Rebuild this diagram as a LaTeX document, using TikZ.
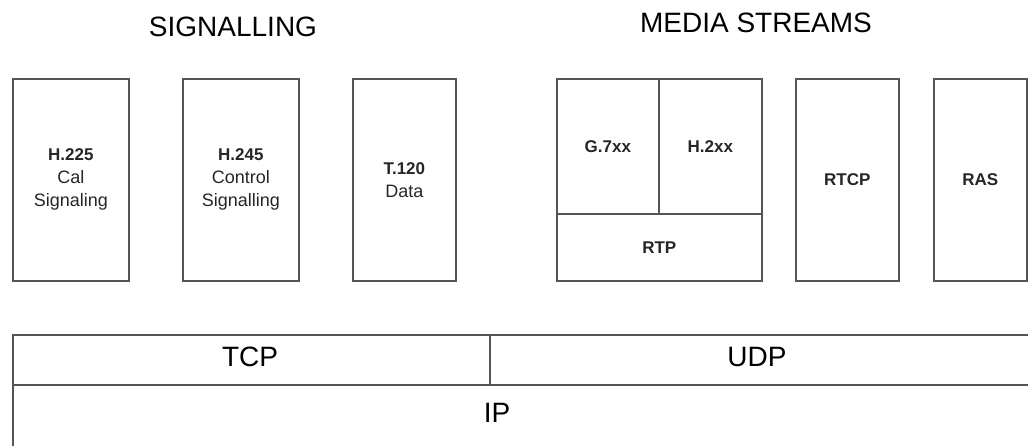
\documentclass[tikz,border=0pt]{standalone}
\usepackage{fontspec}
\setmainfont{Liberation Sans}
\definecolor{linegray}{RGB}{85,85,85}
\newcommand{\hd}[1]{{\bfseries\fontsize{17}{23}\selectfont #1}}
\begin{document}
\begin{tikzpicture}[x=1pt, y=-1pt,
    layer/.style={draw=linegray, line width=1.6pt, inner sep=0pt, anchor=north west,
                  align=center, text=black!85, font=\fontsize{18}{23}\selectfont},
    title/.style={font=\fontsize{28}{32}\selectfont}]
    \useasboundingbox (0,0) rectangle (1028,445);

    % Überschriften
    \node[title] (sig) at (233,27) {SIGNALLING};
    \node[title] (media) at (756,23) {MEDIA STREAMS};

    % Signalisierung
    \node[layer, minimum width=116pt, minimum height=202pt] (h225) at (12,78) {};
    \node[align=center, font=\fontsize{18}{23}\selectfont, text=black!85] (h225t) at (h225.center) {\hd{H.225}\\Cal\\Signaling};
    \node[layer, minimum width=116pt, minimum height=202pt] (h245) at (182,78) {};
    \node[align=center, font=\fontsize{18}{23}\selectfont, text=black!85] (h245t) at (h245.center) {\hd{H.245}\\Control\\Signalling};
    \node[layer, minimum width=103pt, minimum height=202pt] (t120) at (352,78) {};
    \node[align=center, font=\fontsize{18}{23}\selectfont, text=black!85] (t120t) at (t120.center) {\hd{T.120}\\Data};

    % Medienströme
    \node[layer, minimum width=102pt, minimum height=135pt] (g7xx) at (556,78) {\hd{G.7xx}};
    \node[layer, minimum width=103pt, minimum height=135pt] (h2xx) at (658,78) {\hd{H.2xx}};
    \node[layer, minimum width=205pt, minimum height=67pt] (rtp) at (556,213) {\hd{RTP}};
    \node[layer, minimum width=103pt, minimum height=202pt] (rtcp) at (795,78) {\hd{RTCP}};
    \node[layer, minimum width=93pt, minimum height=202pt] (ras) at (933,78) {\hd{RAS}};

    % Transport und Netz
    \node[layer, minimum width=477pt, minimum height=50pt] (tcp) at (12,334) {};
    \node[title] (tcpt) at (250,357) {TCP};
    \node[layer, minimum width=560pt, minimum height=50pt] (udp) at (489,334) {};
    \node[title] (udpt) at (757,357) {UDP};
    \node[layer, minimum width=1040pt, minimum height=90pt] (ip) at (12,384) {};
    \node[title] (ipt) at (497,413) {IP};
\end{tikzpicture}
\end{document}
